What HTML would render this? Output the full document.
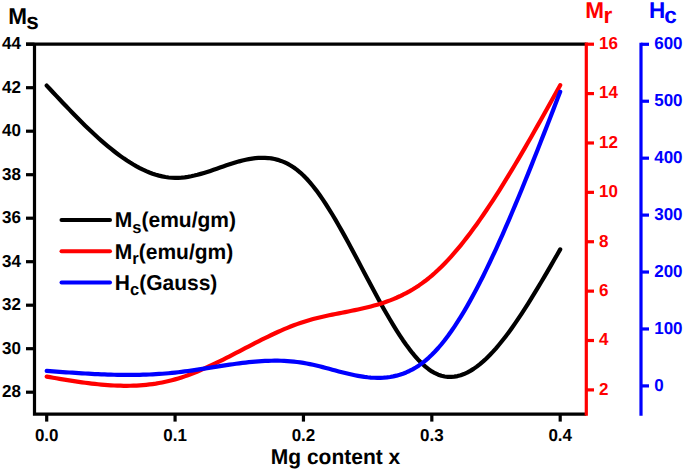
<!DOCTYPE html>
<html><head><meta charset="utf-8"><style>
html,body{margin:0;padding:0;background:#fff;}
svg{display:block;}
text{font-family:"Liberation Sans",sans-serif;font-weight:bold;text-rendering:geometricPrecision;}
</style></head><body>
<svg width="685" height="470" viewBox="0 0 685 470">
<path d="M46.70,85.60 L49.91,89.04 L53.12,92.47 L56.33,95.89 L59.54,99.31 L62.75,102.70 L65.96,106.07 L69.17,109.42 L72.38,112.74 L75.58,116.02 L78.79,119.27 L82.00,122.47 L85.21,125.63 L88.42,128.74 L91.63,131.79 L94.84,134.78 L98.05,137.71 L101.26,140.57 L104.47,143.36 L107.68,146.07 L110.89,148.70 L114.10,151.25 L117.31,153.71 L120.52,156.07 L123.72,158.34 L126.93,160.51 L130.14,162.56 L133.35,164.51 L136.56,166.35 L139.77,168.07 L142.98,169.66 L146.19,171.12 L149.40,172.46 L152.61,173.66 L155.82,174.72 L159.03,175.63 L162.24,176.40 L165.45,177.01 L168.66,177.47 L171.87,177.77 L175.07,177.90 L178.28,177.86 L181.49,177.67 L184.70,177.33 L187.91,176.86 L191.12,176.27 L194.33,175.57 L197.54,174.78 L200.75,173.90 L203.96,172.95 L207.17,171.95 L210.38,170.89 L213.59,169.81 L216.80,168.70 L220.01,167.58 L223.22,166.46 L226.43,165.36 L229.63,164.29 L232.84,163.25 L236.05,162.27 L239.26,161.35 L242.47,160.51 L245.68,159.76 L248.89,159.11 L252.10,158.58 L255.31,158.17 L258.52,157.89 L261.73,157.77 L264.94,157.81 L268.15,158.03 L271.36,158.43 L274.57,159.04 L277.77,159.85 L280.98,160.90 L284.19,162.17 L287.40,163.70 L290.61,165.49 L293.82,167.55 L297.03,169.90 L300.24,172.54 L303.45,175.50 L306.66,178.77 L309.87,182.36 L313.08,186.22 L316.29,190.36 L319.50,194.75 L322.71,199.38 L325.92,204.22 L329.12,209.27 L332.33,214.50 L335.54,219.89 L338.75,225.43 L341.96,231.10 L345.17,236.88 L348.38,242.76 L351.59,248.71 L354.80,254.73 L358.01,260.78 L361.22,266.86 L364.43,272.95 L367.64,279.03 L370.85,285.08 L374.06,291.08 L377.27,297.03 L380.48,302.89 L383.68,308.65 L386.89,314.30 L390.10,319.81 L393.31,325.18 L396.52,330.37 L399.73,335.38 L402.94,340.19 L406.15,344.77 L409.36,349.12 L412.57,353.21 L415.78,357.03 L418.99,360.56 L422.20,363.77 L425.41,366.67 L428.62,369.21 L431.82,371.40 L435.03,373.21 L438.24,374.66 L441.45,375.74 L444.66,376.47 L447.87,376.86 L451.08,376.93 L454.29,376.66 L457.50,376.09 L460.71,375.21 L463.92,374.04 L467.13,372.59 L470.34,370.86 L473.55,368.87 L476.76,366.62 L479.97,364.12 L483.18,361.39 L486.38,358.43 L489.59,355.25 L492.80,351.86 L496.01,348.28 L499.22,344.50 L502.43,340.55 L505.64,336.42 L508.85,332.14 L512.06,327.70 L515.27,323.12 L518.48,318.41 L521.69,313.57 L524.90,308.63 L528.11,303.57 L531.32,298.43 L534.52,293.19 L537.73,287.88 L540.94,282.51 L544.15,277.08 L547.36,271.60 L550.57,266.08 L553.78,260.54 L556.99,254.97 L560.20,249.40" fill="none" stroke="#000" stroke-width="4.2" stroke-linecap="round" stroke-linejoin="round"/>
<path d="M46.70,376.60 L49.91,377.16 L53.12,377.71 L56.33,378.27 L59.54,378.81 L62.75,379.35 L65.96,379.88 L69.17,380.40 L72.38,380.91 L75.58,381.40 L78.79,381.88 L82.00,382.33 L85.21,382.77 L88.42,383.19 L91.63,383.58 L94.84,383.94 L98.05,384.28 L101.26,384.59 L104.47,384.87 L107.68,385.11 L110.89,385.32 L114.10,385.50 L117.31,385.63 L120.52,385.72 L123.72,385.78 L126.93,385.79 L130.14,385.75 L133.35,385.66 L136.56,385.53 L139.77,385.35 L142.98,385.11 L146.19,384.81 L149.40,384.46 L152.61,384.05 L155.82,383.59 L159.03,383.05 L162.24,382.46 L165.45,381.80 L168.66,381.07 L171.87,380.27 L175.07,379.40 L178.28,378.46 L181.49,377.45 L184.70,376.37 L187.91,375.23 L191.12,374.03 L194.33,372.77 L197.54,371.46 L200.75,370.11 L203.96,368.70 L207.17,367.26 L210.38,365.78 L213.59,364.26 L216.80,362.71 L220.01,361.14 L223.22,359.54 L226.43,357.92 L229.63,356.28 L232.84,354.63 L236.05,352.97 L239.26,351.30 L242.47,349.63 L245.68,347.95 L248.89,346.29 L252.10,344.63 L255.31,342.98 L258.52,341.34 L261.73,339.72 L264.94,338.13 L268.15,336.55 L271.36,335.01 L274.57,333.50 L277.77,332.02 L280.98,330.58 L284.19,329.19 L287.40,327.84 L290.61,326.54 L293.82,325.29 L297.03,324.10 L300.24,322.97 L303.45,321.90 L306.66,320.90 L309.87,319.95 L313.08,319.07 L316.29,318.23 L319.50,317.44 L322.71,316.69 L325.92,315.97 L329.12,315.28 L332.33,314.62 L335.54,313.97 L338.75,313.33 L341.96,312.71 L345.17,312.08 L348.38,311.44 L351.59,310.80 L354.80,310.14 L358.01,309.47 L361.22,308.76 L364.43,308.03 L367.64,307.25 L370.85,306.44 L374.06,305.57 L377.27,304.66 L380.48,303.68 L383.68,302.64 L386.89,301.53 L390.10,300.35 L393.31,299.08 L396.52,297.73 L399.73,296.28 L402.94,294.74 L406.15,293.10 L409.36,291.35 L412.57,289.48 L415.78,287.50 L418.99,285.39 L422.20,283.15 L425.41,280.78 L428.62,278.26 L431.82,275.60 L435.03,272.79 L438.24,269.83 L441.45,266.73 L444.66,263.48 L447.87,260.10 L451.08,256.59 L454.29,252.94 L457.50,249.18 L460.71,245.29 L463.92,241.28 L467.13,237.16 L470.34,232.93 L473.55,228.59 L476.76,224.15 L479.97,219.62 L483.18,214.98 L486.38,210.26 L489.59,205.45 L492.80,200.55 L496.01,195.58 L499.22,190.53 L502.43,185.41 L505.64,180.21 L508.85,174.96 L512.06,169.64 L515.27,164.27 L518.48,158.84 L521.69,153.37 L524.90,147.85 L528.11,142.29 L531.32,136.69 L534.52,131.05 L537.73,125.39 L540.94,119.69 L544.15,113.98 L547.36,108.25 L550.57,102.50 L553.78,96.74 L556.99,90.97 L560.20,85.20" fill="none" stroke="#f00" stroke-width="4.2" stroke-linecap="round" stroke-linejoin="round"/>
<path d="M46.70,370.90 L49.91,371.14 L53.12,371.37 L56.33,371.60 L59.54,371.83 L62.75,372.06 L65.96,372.29 L69.17,372.51 L72.38,372.72 L75.58,372.93 L78.79,373.13 L82.00,373.33 L85.21,373.52 L88.42,373.70 L91.63,373.87 L94.84,374.03 L98.05,374.17 L101.26,374.31 L104.47,374.44 L107.68,374.55 L110.89,374.64 L114.10,374.73 L117.31,374.80 L120.52,374.85 L123.72,374.88 L126.93,374.90 L130.14,374.90 L133.35,374.88 L136.56,374.85 L139.77,374.79 L142.98,374.71 L146.19,374.61 L149.40,374.48 L152.61,374.34 L155.82,374.17 L159.03,373.97 L162.24,373.75 L165.45,373.50 L168.66,373.23 L171.87,372.93 L175.07,372.60 L178.28,372.24 L181.49,371.86 L184.70,371.45 L187.91,371.02 L191.12,370.57 L194.33,370.11 L197.54,369.63 L200.75,369.14 L203.96,368.65 L207.17,368.14 L210.38,367.64 L213.59,367.13 L216.80,366.62 L220.01,366.12 L223.22,365.63 L226.43,365.14 L229.63,364.67 L232.84,364.21 L236.05,363.76 L239.26,363.34 L242.47,362.94 L245.68,362.56 L248.89,362.21 L252.10,361.89 L255.31,361.61 L258.52,361.35 L261.73,361.14 L264.94,360.96 L268.15,360.83 L271.36,360.74 L274.57,360.70 L277.77,360.71 L280.98,360.77 L284.19,360.89 L287.40,361.07 L290.61,361.30 L293.82,361.60 L297.03,361.97 L300.24,362.40 L303.45,362.90 L306.66,363.47 L309.87,364.11 L313.08,364.81 L316.29,365.55 L319.50,366.33 L322.71,367.15 L325.92,367.99 L329.12,368.84 L332.33,369.70 L335.54,370.56 L338.75,371.41 L341.96,372.24 L345.17,373.05 L348.38,373.82 L351.59,374.55 L354.80,375.23 L358.01,375.85 L361.22,376.40 L364.43,376.88 L367.64,377.27 L370.85,377.57 L374.06,377.77 L377.27,377.86 L380.48,377.84 L383.68,377.69 L386.89,377.40 L390.10,376.98 L393.31,376.40 L396.52,375.67 L399.73,374.77 L402.94,373.69 L406.15,372.44 L409.36,370.99 L412.57,369.34 L415.78,367.48 L418.99,365.41 L422.20,363.12 L425.41,360.59 L428.62,357.82 L431.82,354.80 L435.03,351.53 L438.24,348.00 L441.45,344.24 L444.66,340.23 L447.87,335.99 L451.08,331.53 L454.29,326.85 L457.50,321.96 L460.71,316.86 L463.92,311.56 L467.13,306.07 L470.34,300.39 L473.55,294.53 L476.76,288.50 L479.97,282.30 L483.18,275.94 L486.38,269.43 L489.59,262.76 L492.80,255.96 L496.01,249.02 L499.22,241.96 L502.43,234.77 L505.64,227.46 L508.85,220.05 L512.06,212.53 L515.27,204.92 L518.48,197.21 L521.69,189.43 L524.90,181.56 L528.11,173.63 L531.32,165.63 L534.52,157.57 L537.73,149.46 L540.94,141.31 L544.15,133.12 L547.36,124.89 L550.57,116.64 L553.78,108.37 L556.99,100.09 L560.20,91.80" fill="none" stroke="#00f" stroke-width="4.2" stroke-linecap="round" stroke-linejoin="round"/>
<path d="M34.5,42.6 V415.8 M32.9,414.2 H586.3 M26,44.2 H586.3" stroke="#000" stroke-width="3.2" fill="none"/>
<line x1="26" y1="392.20" x2="34.5" y2="392.20" stroke="#000" stroke-width="3.2"/>
<text transform="translate(21.00,397.40) scale(1,1.02)" text-anchor="end" font-size="17" font-family="Liberation Sans, sans-serif" font-weight="bold">28</text>
<line x1="26" y1="348.70" x2="34.5" y2="348.70" stroke="#000" stroke-width="3.2"/>
<text transform="translate(21.00,353.90) scale(1,1.02)" text-anchor="end" font-size="17" font-family="Liberation Sans, sans-serif" font-weight="bold">30</text>
<line x1="26" y1="305.20" x2="34.5" y2="305.20" stroke="#000" stroke-width="3.2"/>
<text transform="translate(21.00,310.40) scale(1,1.02)" text-anchor="end" font-size="17" font-family="Liberation Sans, sans-serif" font-weight="bold">32</text>
<line x1="26" y1="261.70" x2="34.5" y2="261.70" stroke="#000" stroke-width="3.2"/>
<text transform="translate(21.00,266.90) scale(1,1.02)" text-anchor="end" font-size="17" font-family="Liberation Sans, sans-serif" font-weight="bold">34</text>
<line x1="26" y1="218.20" x2="34.5" y2="218.20" stroke="#000" stroke-width="3.2"/>
<text transform="translate(21.00,223.40) scale(1,1.02)" text-anchor="end" font-size="17" font-family="Liberation Sans, sans-serif" font-weight="bold">36</text>
<line x1="26" y1="174.70" x2="34.5" y2="174.70" stroke="#000" stroke-width="3.2"/>
<text transform="translate(21.00,179.90) scale(1,1.02)" text-anchor="end" font-size="17" font-family="Liberation Sans, sans-serif" font-weight="bold">38</text>
<line x1="26" y1="131.20" x2="34.5" y2="131.20" stroke="#000" stroke-width="3.2"/>
<text transform="translate(21.00,136.40) scale(1,1.02)" text-anchor="end" font-size="17" font-family="Liberation Sans, sans-serif" font-weight="bold">40</text>
<line x1="26" y1="87.70" x2="34.5" y2="87.70" stroke="#000" stroke-width="3.2"/>
<text transform="translate(21.00,92.90) scale(1,1.02)" text-anchor="end" font-size="17" font-family="Liberation Sans, sans-serif" font-weight="bold">42</text>
<line x1="26" y1="44.20" x2="34.5" y2="44.20" stroke="#000" stroke-width="3.2"/>
<text transform="translate(21.00,49.40) scale(1,1.02)" text-anchor="end" font-size="17" font-family="Liberation Sans, sans-serif" font-weight="bold">44</text>
<line x1="46.70" y1="414.2" x2="46.70" y2="421.6" stroke="#000" stroke-width="3.2"/>
<text transform="translate(46.70,441.00) scale(1,1.02)" text-anchor="middle" font-size="17" font-family="Liberation Sans, sans-serif" font-weight="bold">0.0</text>
<line x1="175.07" y1="414.2" x2="175.07" y2="421.6" stroke="#000" stroke-width="3.2"/>
<text transform="translate(175.07,441.00) scale(1,1.02)" text-anchor="middle" font-size="17" font-family="Liberation Sans, sans-serif" font-weight="bold">0.1</text>
<line x1="303.45" y1="414.2" x2="303.45" y2="421.6" stroke="#000" stroke-width="3.2"/>
<text transform="translate(303.45,441.00) scale(1,1.02)" text-anchor="middle" font-size="17" font-family="Liberation Sans, sans-serif" font-weight="bold">0.2</text>
<line x1="431.82" y1="414.2" x2="431.82" y2="421.6" stroke="#000" stroke-width="3.2"/>
<text transform="translate(431.82,441.00) scale(1,1.02)" text-anchor="middle" font-size="17" font-family="Liberation Sans, sans-serif" font-weight="bold">0.3</text>
<line x1="560.20" y1="414.2" x2="560.20" y2="421.6" stroke="#000" stroke-width="3.2"/>
<text transform="translate(560.20,441.00) scale(1,1.02)" text-anchor="middle" font-size="17" font-family="Liberation Sans, sans-serif" font-weight="bold">0.4</text>
<path d="M586.3,42.6 V415.8" stroke="#f00" stroke-width="3.2" fill="none"/>
<line x1="586.3" y1="389.90" x2="594" y2="389.90" stroke="#f00" stroke-width="3.2"/>
<text transform="translate(599.10,394.80) scale(1,1.02)" font-size="17" fill="#f00" font-family="Liberation Sans, sans-serif" font-weight="bold">2</text>
<line x1="586.3" y1="340.51" x2="594" y2="340.51" stroke="#f00" stroke-width="3.2"/>
<text transform="translate(599.10,345.41) scale(1,1.02)" font-size="17" fill="#f00" font-family="Liberation Sans, sans-serif" font-weight="bold">4</text>
<line x1="586.3" y1="291.13" x2="594" y2="291.13" stroke="#f00" stroke-width="3.2"/>
<text transform="translate(599.10,296.03) scale(1,1.02)" font-size="17" fill="#f00" font-family="Liberation Sans, sans-serif" font-weight="bold">6</text>
<line x1="586.3" y1="241.74" x2="594" y2="241.74" stroke="#f00" stroke-width="3.2"/>
<text transform="translate(599.10,246.64) scale(1,1.02)" font-size="17" fill="#f00" font-family="Liberation Sans, sans-serif" font-weight="bold">8</text>
<line x1="586.3" y1="192.36" x2="594" y2="192.36" stroke="#f00" stroke-width="3.2"/>
<text transform="translate(599.10,197.26) scale(1,1.02)" font-size="17" fill="#f00" font-family="Liberation Sans, sans-serif" font-weight="bold">10</text>
<line x1="586.3" y1="142.97" x2="594" y2="142.97" stroke="#f00" stroke-width="3.2"/>
<text transform="translate(599.10,147.87) scale(1,1.02)" font-size="17" fill="#f00" font-family="Liberation Sans, sans-serif" font-weight="bold">12</text>
<line x1="586.3" y1="93.59" x2="594" y2="93.59" stroke="#f00" stroke-width="3.2"/>
<text transform="translate(599.10,98.49) scale(1,1.02)" font-size="17" fill="#f00" font-family="Liberation Sans, sans-serif" font-weight="bold">14</text>
<line x1="586.3" y1="44.20" x2="594" y2="44.20" stroke="#f00" stroke-width="3.2"/>
<text transform="translate(599.10,49.10) scale(1,1.02)" font-size="17" fill="#f00" font-family="Liberation Sans, sans-serif" font-weight="bold">16</text>
<path d="M641.0,42.699999999999996 V415.8" stroke="#00f" stroke-width="3.2" fill="none"/>
<line x1="641.0" y1="385.90" x2="649" y2="385.90" stroke="#00f" stroke-width="3.2"/>
<text transform="translate(654.20,390.50) scale(1,1.02)" font-size="17" fill="#00f" font-family="Liberation Sans, sans-serif" font-weight="bold">0</text>
<line x1="641.0" y1="328.97" x2="649" y2="328.97" stroke="#00f" stroke-width="3.2"/>
<text transform="translate(654.20,333.57) scale(1,1.02)" font-size="17" fill="#00f" font-family="Liberation Sans, sans-serif" font-weight="bold">100</text>
<line x1="641.0" y1="272.03" x2="649" y2="272.03" stroke="#00f" stroke-width="3.2"/>
<text transform="translate(654.20,276.63) scale(1,1.02)" font-size="17" fill="#00f" font-family="Liberation Sans, sans-serif" font-weight="bold">200</text>
<line x1="641.0" y1="215.10" x2="649" y2="215.10" stroke="#00f" stroke-width="3.2"/>
<text transform="translate(654.20,219.70) scale(1,1.02)" font-size="17" fill="#00f" font-family="Liberation Sans, sans-serif" font-weight="bold">300</text>
<line x1="641.0" y1="158.17" x2="649" y2="158.17" stroke="#00f" stroke-width="3.2"/>
<text transform="translate(654.20,162.77) scale(1,1.02)" font-size="17" fill="#00f" font-family="Liberation Sans, sans-serif" font-weight="bold">400</text>
<line x1="641.0" y1="101.23" x2="649" y2="101.23" stroke="#00f" stroke-width="3.2"/>
<text transform="translate(654.20,105.83) scale(1,1.02)" font-size="17" fill="#00f" font-family="Liberation Sans, sans-serif" font-weight="bold">500</text>
<line x1="641.0" y1="44.30" x2="649" y2="44.30" stroke="#00f" stroke-width="3.2"/>
<text transform="translate(654.20,48.90) scale(1,1.02)" font-size="17" fill="#00f" font-family="Liberation Sans, sans-serif" font-weight="bold">600</text>
<text transform="translate(8.20,23.70) scale(1,1.02)" font-size="22.5" font-family="Liberation Sans, sans-serif" font-weight="bold">M<tspan dx="-0.8" dy="5.3">s</tspan></text>
<text transform="translate(585.30,17.80) scale(1,1.02)" font-size="22.5" fill="#f00" font-family="Liberation Sans, sans-serif" font-weight="bold">M<tspan dx="-0.5" dy="4.9">r</tspan></text>
<text transform="translate(649.00,17.80) scale(1,1.02)" font-size="22.5" fill="#00f" font-family="Liberation Sans, sans-serif" font-weight="bold">H<tspan dx="-1" dy="5.3">c</tspan></text>
<text transform="translate(335.50,464.00) scale(1,1.02)" text-anchor="middle" font-size="21" font-family="Liberation Sans, sans-serif" font-weight="bold">Mg content x</text>
<line x1="61.5" y1="219.9" x2="110" y2="219.9" stroke="#000" stroke-width="4" stroke-linecap="round"/>
<text transform="translate(114.80,227.10) scale(1,1.02)" font-size="21" font-family="Liberation Sans, sans-serif" font-weight="bold">M<tspan font-size="16.5" dy="5.5">s</tspan><tspan dy="-5.5">(emu/gm)</tspan></text>
<line x1="61.5" y1="251.3" x2="110" y2="251.3" stroke="#f00" stroke-width="4" stroke-linecap="round"/>
<text transform="translate(114.80,258.50) scale(1,1.02)" font-size="21" font-family="Liberation Sans, sans-serif" font-weight="bold">M<tspan font-size="16.5" dy="5.5">r</tspan><tspan dy="-5.5">(emu/gm)</tspan></text>
<line x1="61.5" y1="282.5" x2="110" y2="282.5" stroke="#00f" stroke-width="4" stroke-linecap="round"/>
<text transform="translate(114.80,289.70) scale(1,1.02)" font-size="21" font-family="Liberation Sans, sans-serif" font-weight="bold">H<tspan font-size="16.5" dy="5.5">c</tspan><tspan dy="-5.5">(Gauss)</tspan></text>
</svg>
</body></html>
